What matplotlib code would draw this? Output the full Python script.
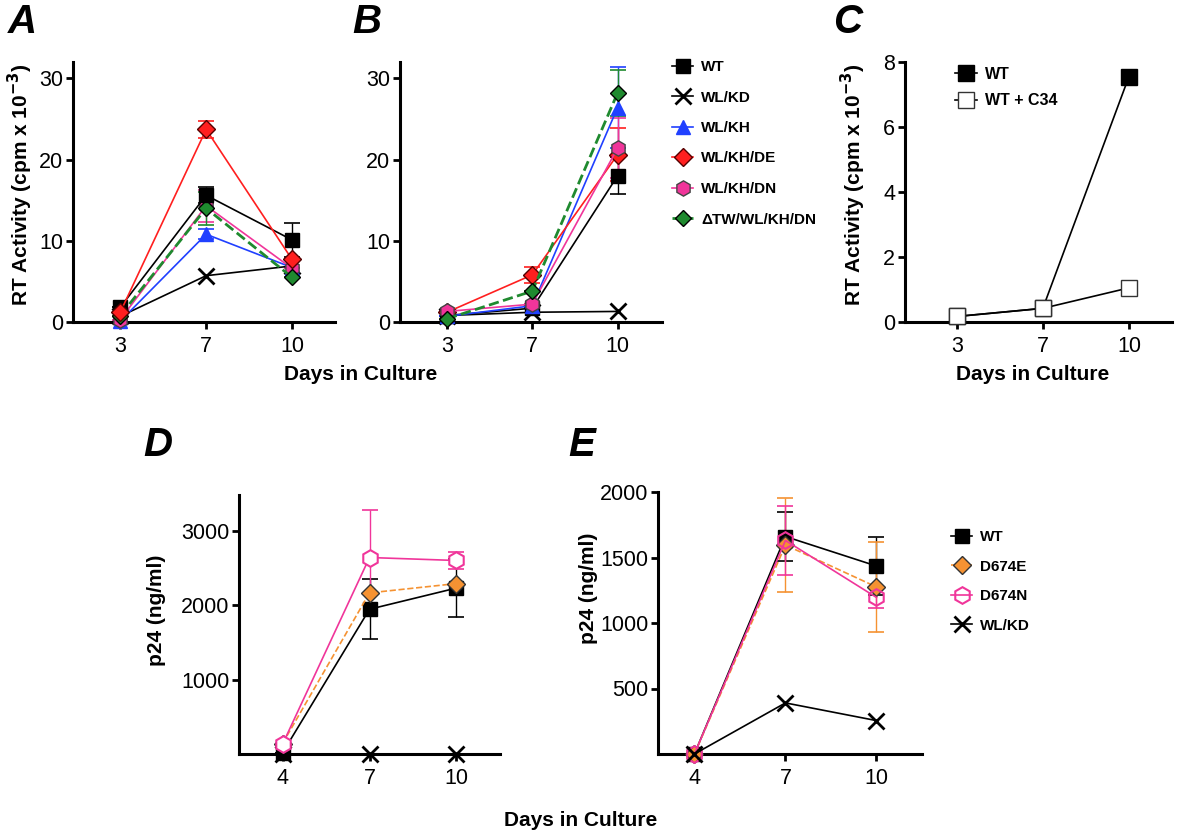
import numpy as np
import matplotlib.pyplot as plt

plt.rcParams['font.family'] = ['Liberation Sans', 'DejaVu Sans']

# ---- data ----
days_abc = ['3', '7', '10']
days_de = ['4', '7', '10']

# panel A: RT activity (cpm x 10^-3)
a_wt = [1.8, 15.6, 10.1]
a_wt_err = [0.0, 1.0, 2.1]
a_wlkd = [0.7, 5.7, 6.9]
a_wlkh = [0.1, 10.8, 6.7]
a_wlkh_err = [0.0, 0.6, 0.0]
a_de = [1.2, 23.7, 7.7]
a_de_err = [0.0, 1.0, 0.0]
a_dn = [0.3, 14.3, 6.6]
a_dn_err = [0.0, 2.0, 0.0]
a_tw = [0.8, 14.0, 5.5]
a_tw_err = [0.0, 2.0, 0.0]

# panel B
b_wt = [0.8, 1.7, 18.0]
b_wt_err = [0.0, 0.0, 2.3]
b_wlkd = [0.8, 1.2, 1.3]
b_wlkh = [0.7, 2.0, 26.4]
b_wlkh_err = [0.0, 0.0, 5.0]
b_de = [1.2, 5.8, 20.6]
b_de_err = [0.0, 1.0, 3.3]
b_dn = [1.3, 2.2, 21.4]
b_dn_err = [0.0, 0.0, 3.7]
b_tw = [0.4, 3.8, 28.2]
b_tw_err = [0.0, 0.0, 2.8]

# panel C
c_wt = [0.17, 0.42, 7.55]
c_c34 = [0.17, 0.42, 1.05]
c_c34_err = [0.0, 0.0, 0.15]

# panel D: p24 (ng/ml)
d_wt = [15, 1945, 2230]
d_wt_err = [0, 400, 390]
d_de = [140, 2165, 2290]
d_dn = [130, 2640, 2600]
d_dn_err = [0, 640, 120]
d_wlkd = [0, 0, 0]

# panel E
e_wt = [0, 1660, 1435]
e_wt_err = [0, 185, 220]
e_de = [0, 1595, 1275]
e_de_err = [0, 360, 345]
e_dn = [0, 1630, 1195]
e_dn_err = [0, 260, 80]
e_wlkd = [0, 390, 255]

RED = '#ff1f1f'
BLUE = '#2040ff'
PINK = '#f0359a'
GREEN = '#1f8a2f'
ORANGE = '#f59232'

W, H = 1200, 834
fig = plt.figure(figsize=(12, 8.34), dpi=100)


def px_axes(x0, y0, x1, y1):
    return fig.add_axes([x0 / W, 1 - y1 / H, (x1 - x0) / W, (y1 - y0) / H])


def style(ax, ticks, xlim, ylim, yticks):
    for s in ['top', 'right']:
        ax.spines[s].set_visible(False)
    for s in ['left', 'bottom']:
        ax.spines[s].set_linewidth(2.2)
    ax.tick_params(width=2, length=5, labelsize=15.5, pad=2)
    ax.tick_params(axis='x', pad=5)
    ax.set_xticks(range(len(ticks)))
    ax.set_xticklabels(ticks)
    ax.set_xlim(xlim)
    ax.set_ylim(ylim)
    ax.set_yticks(yticks)
    ax.set_facecolor('none')


def series(ax, y, err, color, marker, label, ms=9, mfc=None, mec='black', ls='-', lw=1.2, mew=1.0):
    x = np.arange(len(y))
    if err is not None:
        ax.errorbar(x, y, yerr=err, fmt='none', ecolor=color, elinewidth=1.0,
                    capsize=6, capthick=1.2, zorder=2)
    ax.plot(x, y, color=color, ls=ls, lw=lw, marker=marker, ms=ms,
            mfc=color if mfc is None else mfc, mec=mec, mew=mew, label=label,
            zorder=3, clip_on=False)


def legend(ax, x, y, spacing, size):
    ax.legend(loc='upper left', bbox_to_anchor=(x / W, 1 - y / H),
              bbox_transform=fig.transFigure, frameon=False, handlelength=1.4,
              handletextpad=0.5, labelspacing=spacing, borderpad=0, borderaxespad=0,
              prop={'weight': 'bold', 'size': size})


# ---- A ----
ax_a = px_axes(73, 62, 335, 322)
series(ax_a, a_wlkd, None, 'black', 'x', 'WL/KD', ms=11, mew=2)
series(ax_a, a_wlkh, a_wlkh_err, BLUE, '^', 'WL/KH', ms=10, mec=BLUE)
series(ax_a, a_dn, a_dn_err, PINK, 'h', 'WL/KH/DN', ms=11, mec='#444444')
series(ax_a, a_tw, a_tw_err, GREEN, 'D', '\u0394TW/WL/KH/DN', ms=8, ls='--', lw=2)
series(ax_a, a_wt, a_wt_err, 'black', 's', 'WT', ms=10)
series(ax_a, a_de, a_de_err, RED, 'D', 'WL/KH/DE', ms=9, mec='#550000')
style(ax_a, days_abc, (-0.55, 2.5), (0, 32), [0, 10, 20, 30])

# ---- B ----
ax_b = px_axes(400, 62, 662, 322)
series(ax_b, b_wt, b_wt_err, 'black', 's', 'WT', ms=10)
series(ax_b, b_wlkd, None, 'black', 'x', 'WL/KD', ms=11, mew=2)
series(ax_b, b_wlkh, b_wlkh_err, BLUE, '^', 'WL/KH', ms=10, mec=BLUE)
series(ax_b, b_de, b_de_err, RED, 'D', 'WL/KH/DE', ms=9, mec='#550000')
series(ax_b, b_dn, b_dn_err, PINK, 'h', 'WL/KH/DN', ms=11, mec='#444444')
series(ax_b, b_tw, b_tw_err, GREEN, 'D', '\u0394TW/WL/KH/DN', ms=8, ls='--', lw=2)
style(ax_b, days_abc, (-0.55, 2.52), (0, 32), [0, 10, 20, 30])
legend(ax_b, 672, 60, 1.08, 11)

# ---- C ----
ax_c = px_axes(905, 62, 1172, 322)
series(ax_c, c_wt, None, 'black', 's', 'WT', ms=12)
series(ax_c, c_c34, c_c34_err, 'black', 's', 'WT + C34', ms=12, mfc='white', mec='#333333')
style(ax_c, days_abc, (-0.6, 2.5), (0, 8), [0, 2, 4, 6, 8])
legend(ax_c, 955, 67, 0.7, 11.5)

# ---- D ----
ax_d = px_axes(239, 495, 500, 754)
series(ax_d, d_wlkd, None, 'black', 'x', 'WL/KD', ms=11, mew=2)
series(ax_d, d_wt, d_wt_err, 'black', 's', 'WT', ms=10)
series(ax_d, d_de, None, ORANGE, 'D', 'D674E', ms=9, ls='--', mec='#333333')
series(ax_d, d_dn, d_dn_err, PINK, 'h', 'D674N', ms=12, mfc='white', mec=PINK, mew=1.5)
style(ax_d, days_de, (-0.5, 2.5), (0, 3480), [1000, 2000, 3000])

# ---- E ----
ax_e = px_axes(658, 492, 922, 754)
series(ax_e, e_wt, e_wt_err, 'black', 's', 'WT', ms=10)
series(ax_e, e_de, e_de_err, ORANGE, 'D', 'D674E', ms=9, ls='--', mec='#333333')
series(ax_e, e_dn, e_dn_err, PINK, 'h', 'D674N', ms=12, mfc='none', mec=PINK, mew=1.5)
series(ax_e, e_wlkd, None, 'black', 'x', 'WL/KD', ms=11, mew=2)
style(ax_e, days_de, (-0.4, 2.5), (0, 2000), [500, 1000, 1500, 2000])
legend(ax_e, 951, 530, 1.02, 11)

# ---- labels ----
lab = dict(fontsize=15, fontweight='bold', ha='center', va='center')
fig.text(361 / W, 1 - 374 / H, 'Days in Culture', **lab)
fig.text(1033 / W, 1 - 374 / H, 'Days in Culture', **lab)
fig.text(581 / W, 1 - 820 / H, 'Days in Culture', **lab)
ylab = 'RT Activity (cpm x 10$^{\\mathbf{-3}}$)'
fig.text(20 / W, 1 - 185 / H, ylab, rotation=90, **lab)
fig.text(853 / W, 1 - 185 / H, ylab, rotation=90, **lab)
fig.text(157 / W, 1 - 610 / H, 'p24 (ng/ml)', rotation=90, **lab)
fig.text(588 / W, 1 - 588 / H, 'p24 (ng/ml)', rotation=90, **lab)

pan = dict(fontsize=29, fontweight='bold', fontstyle='italic', ha='center', va='center')
for letter, x, y in [('A', 22, 22), ('B', 367, 22), ('C', 848, 22), ('D', 158, 445), ('E', 582, 445)]:
    fig.text(x / W, 1 - y / H, letter, **pan)

plt.savefig('out.png', dpi=100)
